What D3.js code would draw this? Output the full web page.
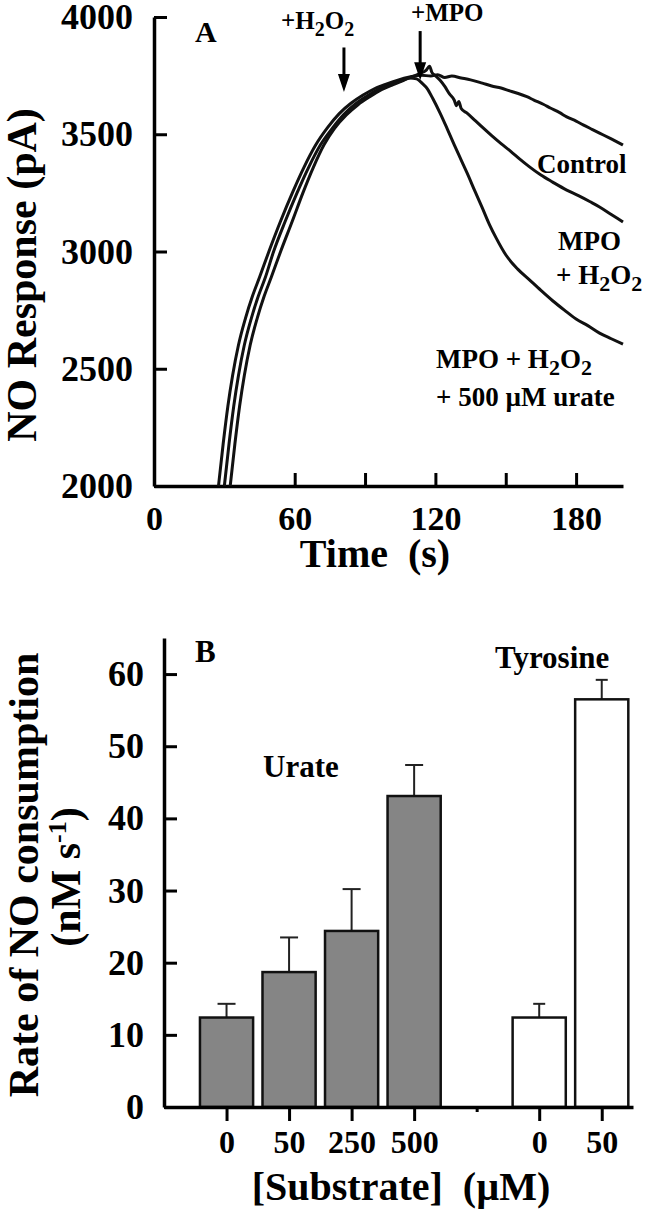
<!DOCTYPE html>
<html>
<head>
<meta charset="utf-8">
<script src="https://cdn.jsdelivr.net/npm/d3@7"></script>
<style>
  body { margin: 0; background: #fff; }
  svg { display: block; font-family: "Liberation Serif", "Times New Roman", serif; font-weight: bold; }
  text { white-space: pre; }
</style>
</head>
<body>
<div id="chart"></div>
<script>
// Panel A traces: [time (s), NO response (pA)]
var controlTrace = [
  [27.5, 2000], [29.5, 2180], [31.5, 2340], [33.5, 2470], [36, 2600], [39, 2715], [42, 2810],
  [45, 2890], [49, 3000], [54, 3130], [59, 3250], [64, 3360], [69, 3455], [74, 3528], [79, 3588],
  [84, 3632], [89, 3666], [94, 3694], [99, 3714], [104, 3731], [109, 3744], [114, 3752],
  [118, 3748], [121, 3754], [124, 3742], [127, 3748], [131, 3740], [135, 3732], [140, 3718],
  [144, 3706], [148, 3697], [152, 3684], [155, 3675], [159, 3660], [162, 3646], [166, 3628],
  [169, 3612], [173, 3592], [176, 3574], [180, 3556], [183, 3540], [187, 3520], [190, 3505],
  [195, 3480], [200, 3454]
];
var mpoTrace = [
  [30, 2000], [32, 2180], [34, 2340], [36, 2470], [38.5, 2600], [41.5, 2715], [44.5, 2810],
  [47.5, 2890], [51, 3000], [56, 3130], [61, 3250], [66, 3360], [71, 3455], [76, 3525],
  [81, 3585], [86, 3630], [91, 3664], [96, 3692], [101, 3712], [106, 3730], [110, 3745],
  [113, 3758], [116, 3772], [117.5, 3790], [118.5, 3764], [120, 3750], [122, 3730],
  [124, 3704], [126, 3672], [128, 3646], [129, 3622], [130, 3640], [131, 3610], [133.5, 3590],
  [137, 3558], [140, 3530], [144, 3494], [148, 3460], [152, 3428], [156, 3394], [160, 3362],
  [165, 3326], [170, 3296], [176, 3262], [181, 3238], [186, 3212], [190, 3190], [195, 3158],
  [200, 3126]
];
var urateTrace = [
  [32.5, 2000], [34.5, 2180], [36.5, 2340], [38.5, 2470], [41, 2600], [44, 2715], [47, 2810],
  [50, 2890], [54, 3000], [59, 3130], [63.5, 3250], [68, 3360], [72.5, 3455], [77, 3525],
  [82, 3582], [87, 3626], [92, 3660], [97, 3690], [102, 3712], [106, 3728], [109, 3740],
  [112, 3736], [114.5, 3716], [116.5, 3695], [119, 3650], [122, 3590], [125, 3524],
  [128, 3456], [131, 3390], [133.5, 3335], [137, 3254], [140, 3186], [143, 3116], [146, 3056],
  [150, 2986], [155, 2926], [160, 2880], [165, 2834], [170, 2790], [175, 2750], [180, 2712],
  [185, 2684], [190, 2652], [195, 2628], [200, 2605]
];

// Panel A axes
var timeTicks = [0, 60, 90, 120, 150, 180];
var timeLabels = [0, 60, 120, 180];
var responseTicks = [2000, 2500, 3000, 3500, 4000];

// Panel B data
var urateDoses = ["0", "50", "250", "500"];
var urateRate = [12.4, 18.7, 24.4, 43.1];
var urateErr = [1.9, 4.8, 5.8, 4.3];
var tyrosineDoses = ["0", "50"];
var tyrosineRate = [12.4, 56.5];
var tyrosineErr = [1.9, 2.7];
var rateTicks = [0, 10, 20, 30, 40, 50, 60];

var width = 650;
var height = 1211;

var svg = d3
  .select("#chart")
  .append("svg")
  .attr("width", width)
  .attr("height", height);

// ---------- Panel A ----------

var xA = d3.scaleLinear().domain([0, 200]).range([154, 623]);
var yA = d3.scaleLinear().domain([2000, 4000]).range([486, 17]);

var xAxisA = d3
  .axisBottom(xA)
  .tickValues(timeTicks)
  .tickSizeInner(-13)
  .tickSizeOuter(0)
  .tickPadding(20)
  .tickFormat(function(d) {
    return timeLabels.indexOf(d) >= 0 ? d : "";
  });

var yAxisA = d3
  .axisLeft(yA)
  .tickValues(responseTicks)
  .tickSizeInner(-13)
  .tickSizeOuter(0)
  .tickPadding(21)
  .tickFormat(d3.format("d"));

function styleAxis(g, size) {
  g.attr("font-family", null).attr("font-size", size);
  g.select(".domain").attr("stroke", "#000").attr("stroke-width", 3.5);
  g.selectAll(".tick line").attr("stroke", "#000").attr("stroke-width", 3);
  g.selectAll(".tick text").attr("fill", "#000");
}

svg.append("g")
  .attr("transform", "translate(0,486)")
  .call(xAxisA)
  .call(styleAxis, 34);

svg.append("g")
  .attr("transform", "translate(154,0)")
  .call(yAxisA)
  .call(styleAxis, 36);

var line = d3
  .line()
  .curve(d3.curveMonotoneX)
  .x(function(d) { return xA(d[0]); })
  .y(function(d) { return yA(d[1]); });

[controlTrace, mpoTrace, urateTrace].forEach(function(trace) {
  svg.append("path")
    .datum(trace)
    .attr("d", line)
    .attr("fill", "none")
    .attr("stroke", "#111")
    .attr("stroke-width", 3)
    .attr("stroke-linejoin", "round");
});

// Arrows for additions
var arrowTimes = [81, 113.5];
var arrowTops = [3870, 3940];
var arrowTips = [3680, 3730];

arrowTimes.forEach(function(t, i) {
  var x = xA(t);
  var y0 = yA(arrowTops[i]);
  var y1 = yA(arrowTips[i]);
  svg.append("line")
    .attr("x1", x).attr("x2", x)
    .attr("y1", y0).attr("y2", y1 - 14)
    .attr("stroke", "#000")
    .attr("stroke-width", 3);
  svg.append("path")
    .attr("d", "M" + (x - 6) + "," + (y1 - 18) + "L" + (x + 6) + "," + (y1 - 18) + "L" + x + "," + y1 + "Z")
    .attr("fill", "#000");
});

// Subscript helper: parts are [text, isSub]
function richText(sel, parts, subSize) {
  var shifted = false;
  parts.forEach(function(p) {
    var ts = sel.append("tspan").text(p[0]);
    if (p[1] && !shifted) {
      ts.attr("dy", 7).attr("font-size", subSize);
      shifted = true;
    } else if (!p[1] && shifted) {
      ts.attr("dy", -7);
      shifted = false;
    } else if (p[1]) {
      ts.attr("font-size", subSize);
    }
  });
}

svg.append("text")
  .attr("x", 195).attr("y", 42)
  .attr("font-size", 30)
  .text("A");

var h2o2Label = svg.append("text")
  .attr("x", 281).attr("y", 29)
  .attr("font-size", 25);
richText(h2o2Label, [["+H", 0], ["2", 1], ["O", 0], ["2", 1]], 20);

svg.append("text")
  .attr("x", 411).attr("y", 21)
  .attr("font-size", 25)
  .text("+MPO");

svg.append("text")
  .attr("x", 537).attr("y", 173)
  .attr("font-size", 27)
  .text("Control");

svg.append("text")
  .attr("x", 558).attr("y", 250)
  .attr("font-size", 27)
  .text("MPO");

var mpoLabel = svg.append("text")
  .attr("x", 556).attr("y", 284)
  .attr("font-size", 27);
richText(mpoLabel, [["+ H", 0], ["2", 1], ["O", 0], ["2", 1]], 22);

var urateLabel = svg.append("text")
  .attr("x", 436).attr("y", 368)
  .attr("font-size", 27);
richText(urateLabel, [["MPO + H", 0], ["2", 1], ["O", 0], ["2", 1]], 22);

svg.append("text")
  .attr("x", 436).attr("y", 406)
  .attr("font-size", 27)
  .text("+ 500 \u00b5M urate");

svg.append("text")
  .attr("text-anchor", "middle")
  .attr("x", 375).attr("y", 567)
  .attr("font-size", 40)
  .text("Time  (s)");

svg.append("text")
  .attr("text-anchor", "middle")
  .attr("transform", "translate(36,275)rotate(-90)")
  .attr("font-size", 42)
  .text("NO Response (pA)");

// ---------- Panel B ----------

var slot = d3.scaleLinear().domain([-1, 6.5]).range([164, 633]);
var yB = d3.scaleLinear().domain([0, 65]).range([1107, 638]);

var barData = [];
urateDoses.forEach(function(d, i) {
  barData.push({ slot: i, label: d, rate: urateRate[i], err: urateErr[i], fill: "#858585", cap: 9 });
});
tyrosineDoses.forEach(function(d, i) {
  barData.push({ slot: 5 + i, label: d, rate: tyrosineRate[i], err: tyrosineErr[i], fill: "#fff", cap: 6 });
});

var barWidth = (slot(1) - slot(0)) * 0.85;

var tickSlots = [0, 1, 2, 3, 4, 5, 6];
var xAxisB = d3
  .axisBottom(slot)
  .tickValues(tickSlots)
  .tickSizeInner(14)
  .tickSizeOuter(0)
  .tickPadding(9)
  .tickFormat(function(s) {
    var b = barData.filter(function(d) { return d.slot === s; })[0];
    return b ? b.label : "";
  });

var yAxisB = d3
  .axisLeft(yB)
  .tickValues(rateTicks)
  .tickSizeInner(-13)
  .tickSizeOuter(0)
  .tickPadding(20);

// error bars
var errG = svg.append("g");
barData.forEach(function(d) {
  var x = slot(d.slot);
  errG.append("line")
    .attr("x1", x).attr("x2", x)
    .attr("y1", yB(d.rate)).attr("y2", yB(d.rate + d.err))
    .attr("stroke", "#222").attr("stroke-width", 2);
  errG.append("line")
    .attr("x1", x - d.cap).attr("x2", x + d.cap)
    .attr("y1", yB(d.rate + d.err)).attr("y2", yB(d.rate + d.err))
    .attr("stroke", "#222").attr("stroke-width", 2);
});

svg.append("g")
  .selectAll("rect")
  .data(barData)
  .enter()
  .append("rect")
  .attr("x", function(d) { return slot(d.slot) - barWidth / 2; })
  .attr("y", function(d) { return yB(d.rate); })
  .attr("width", barWidth)
  .attr("height", function(d) { return yB(0) - yB(d.rate); })
  .attr("fill", function(d) { return d.fill; })
  .attr("stroke", "#111")
  .attr("stroke-width", 2.5);

var xgB = svg.append("g")
  .attr("transform", "translate(0,1107)")
  .call(xAxisB)
  .call(styleAxis, 32);
// the empty gap slot carries only a short tick
xgB.selectAll(".tick line").attr("y2", function(s) { return s === 4 ? 5 : 14; });

svg.append("g")
  .attr("transform", "translate(164,0)")
  .call(yAxisB)
  .call(styleAxis, 36);

svg.append("text")
  .attr("x", 195).attr("y", 662)
  .attr("font-size", 31)
  .text("B");

svg.append("text")
  .attr("x", 263).attr("y", 777)
  .attr("font-size", 31)
  .text("Urate");

svg.append("text")
  .attr("x", 495).attr("y", 668)
  .attr("font-size", 31)
  .text("Tyrosine");

svg.append("text")
  .attr("text-anchor", "middle")
  .attr("x", 401).attr("y", 1200)
  .attr("font-size", 40)
  .text("[Substrate]  (\u00b5M)");

svg.append("text")
  .attr("text-anchor", "middle")
  .attr("transform", "translate(38,875)rotate(-90)")
  .attr("font-size", 42)
  .text("Rate of NO consumption");

var unitLabel = svg.append("text")
  .attr("text-anchor", "middle")
  .attr("transform", "translate(80,877)rotate(-90)")
  .attr("font-size", 42);
unitLabel.append("tspan").text("(nM s");
unitLabel.append("tspan").attr("dy", -14).attr("font-size", 26).text("-1");
unitLabel.append("tspan").attr("dy", 14).text(")");
</script>
</body>
</html>
